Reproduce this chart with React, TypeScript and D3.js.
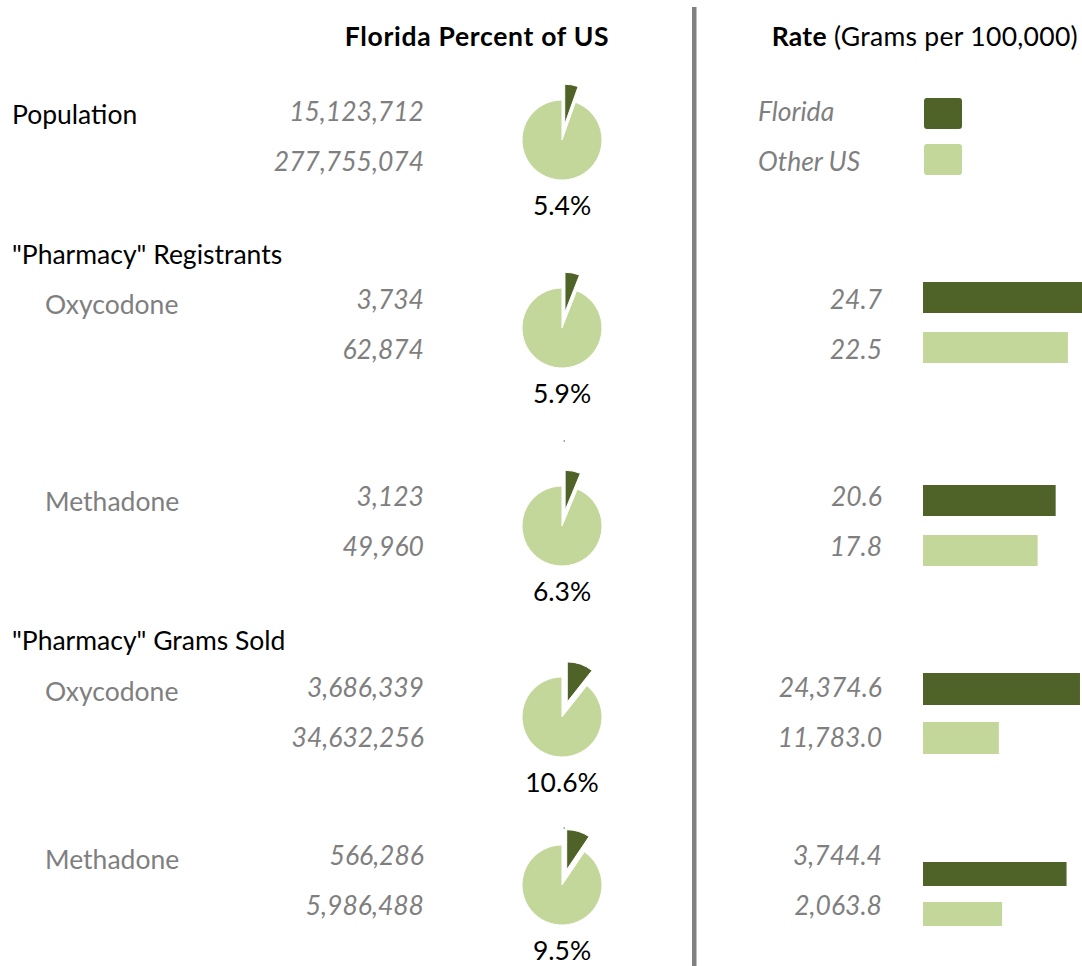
import React from "react";
import * as d3 from "d3";

// ---- data ----
const rowLabels = ["Population", "Oxycodone", "Methadone", "Oxycodone", "Methadone"];
const floridaCounts = [15123712, 3734, 3123, 3686339, 566286];
const usCounts = [277755074, 62874, 49960, 34632256, 5986488];
const floridaRates: (number | null)[] = [null, 24.7, 20.6, 24374.6, 3744.4];
const otherRates: (number | null)[] = [null, 22.5, 17.8, 11783.0, 2063.8];
const rateDomainMax = [0, 25, 25, 25000, 4200];
const groupHeadings = ['"Pharmacy" Registrants', '"Pharmacy" Grams Sold'];
const legendLabels = ["Florida", "Other US"];
const leftTitle = "Florida Percent of US";
const rightTitleBold = "Rate";
const rightTitleRest = " (Grams per 100,000)";

// ---- layout ----
const W = 1082;
const H = 966;
const FONT = "Lato, 'Open Sans', sans-serif";
const FS = 26.5;
const DARK = "#4F6228";
const LIGHT = "#C4D79B";
const GRAY = "#7F7F7F";
const pieCX = 562;
const pieCY = [140, 328, 526, 717, 885];
const labelY = [115, 305, 502, 692, 860];
const numY = [112, 300, 497, 688, 856];
const barTopDark = [0, 282, 485, 673, 862];
const barTopLight = [0, 332, 535, 722, 902];
const barH = [0, 31, 31, 32, 24];
const labelX = [12, 45, 45, 45, 45];
const headingY = [255, 641];
const barX0 = 923;
const barMaxW = 161;
const R = 40;
const EXPLODE = 16;

const fmtCount = d3.format(",");
const fmtPct = d3.format(".1%");
const fmtRate = d3.format(",.1f");

function Pie({ i }: { i: number }) {
  const fl = floridaCounts[i];
  const rest = usCounts[i] - fl;
  const pie = d3.pie<number>().sort(null).value((d) => d);
  const arcs = pie([fl, rest]);
  const arc = d3.arc<d3.PieArcDatum<number>>().innerRadius(0).outerRadius(R);
  const a0 = arcs[0];
  const mid = (a0.startAngle + a0.endAngle) / 2;
  const dx = EXPLODE * Math.sin(mid);
  const dy = -EXPLODE * Math.cos(mid);
  return (
    <g transform={`translate(${pieCX},${pieCY[i]})`}>
      <path d={arc(arcs[1]) || ""} fill={LIGHT} stroke="#fff" strokeWidth={1} />
      <path d={arc(a0) || ""} fill={DARK} stroke="#fff" strokeWidth={1} transform={`translate(${dx},${dy})`} />
      <text x={0} y={66 + 9} textAnchor="middle" fontSize={FS} fill="#000">
        {fmtPct(fl / usCounts[i])}
      </text>
    </g>
  );
}

export default function App() {
  return (
    <svg
      width={W}
      height={H}
      style={{ position: "absolute", left: 0, top: 0, background: "#fff", overflow: "hidden" }}
      fontFamily={FONT}
    >
      <rect x={0} y={0} width={W} height={H} fill="#fff" />
      {/* titles */}
      <text x={477} y={46} textAnchor="middle" fontSize={FS} fontWeight="bold" fill="#000" letterSpacing={0.7}>
        {leftTitle}
      </text>
      <text x={1078} y={46} textAnchor="end" fontSize={FS} fill="#000" letterSpacing={0.3}>
        <tspan fontWeight="bold">{rightTitleBold}</tspan>
        <tspan>{rightTitleRest}</tspan>
      </text>
      {/* divider */}
      <rect x={692} y={7} width={4.5} height={H - 7} fill="#808080" />

      {/* legend */}
      {legendLabels.map((l, k) => (
        <g key={l}>
          <text x={758} y={numY[0] + 50 * k + 9} fontSize={FS} fontStyle="italic" fill={GRAY}>
            {l}
          </text>
          <rect x={924} y={98 + 46 * k} width={38} height={31} rx={3} fill={k === 0 ? DARK : LIGHT} />
        </g>
      ))}

      {/* group headings */}
      {groupHeadings.map((h, k) => (
        <text key={h} x={12} y={headingY[k] + 9} fontSize={FS} fill="#000">
          {h}
        </text>
      ))}

      {rowLabels.map((lab, i) => {
        const x = d3.scaleLinear().domain([0, rateDomainMax[i] || 1]).range([0, barMaxW]);
        const fr = floridaRates[i];
        const orr = otherRates[i];
        return (
          <g key={i}>
            <text x={labelX[i]} y={labelY[i] + 9} fontSize={FS} fill={i === 0 ? "#000" : GRAY}>
              {lab}
            </text>
            <text x={424} y={numY[i] + 9} textAnchor="end" fontSize={FS} fontStyle="italic" fill={GRAY}>
              {fmtCount(floridaCounts[i])}
            </text>
            <text x={424} y={numY[i] + 50 + 9} textAnchor="end" fontSize={FS} fontStyle="italic" fill={GRAY}>
              {fmtCount(usCounts[i])}
            </text>
            <Pie i={i} />
            {fr !== null && orr !== null && (
              <g>
                <text x={882} y={numY[i] + 9} textAnchor="end" fontSize={FS} fontStyle="italic" fill={GRAY}>
                  {fmtRate(fr)}
                </text>
                <text x={882} y={numY[i] + 50 + 9} textAnchor="end" fontSize={FS} fontStyle="italic" fill={GRAY}>
                  {fmtRate(orr)}
                </text>
                <rect x={barX0} y={barTopDark[i]} width={x(fr)} height={barH[i]} fill={DARK} />
                <rect x={barX0} y={barTopLight[i]} width={x(orr)} height={barH[i]} fill={LIGHT} />
              </g>
            )}
          </g>
        );
      })}
      {/* stray marks */}
      <rect x={563.5} y={440.5} width={1.5} height={1} fill={DARK} />
      <rect x={563.5} y={827.5} width={1.5} height={1} fill={DARK} />
    </svg>
  );
}
